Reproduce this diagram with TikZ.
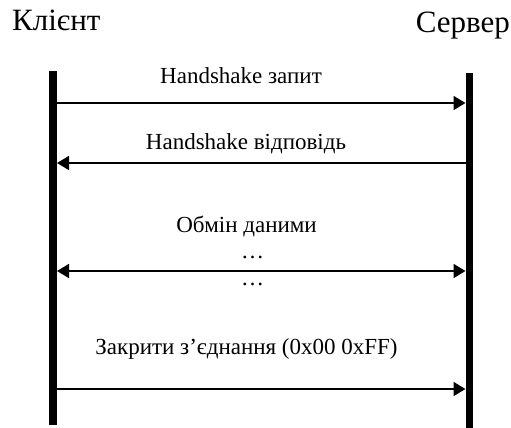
\documentclass[tikz,border=0pt]{standalone}
\usepackage{fontspec}
\setmainfont{Liberation Serif}
\usetikzlibrary{arrows.meta}

\begin{document}
\begin{tikzpicture}[
    x=1pt, y=-1pt,
    % Define styles
    lifeline/.style={
        line width=7.5pt,
        line cap=butt
    },
    msg/.style={
        line width=1.6pt,
        -{Triangle[length=12pt, width=14pt]}
    },
    msgboth/.style={
        line width=1.6pt,
        {Triangle[length=12pt, width=14pt]}-{Triangle[length=12pt, width=14pt]}
    },
    party_text/.style={
        font=\fontsize{31}{36}\selectfont,
        inner sep=0pt
    },
    msg_text/.style={
        font=\fontsize{23}{27}\selectfont,
        inner sep=0pt,
        anchor=base
    }
]
    \useasboundingbox (0,0) rectangle (511,428);

    % --- Parties ---
    \node[party_text, anchor=base west] (client) at (12,31) {Клієнт};
    \node[party_text, anchor=base east] (server) at (510,33) {Сервер};

    % --- Lifelines ---
    \coordinate (ctop) at (53,71);
    \coordinate (cbot) at (53,425);
    \coordinate (stop) at (469.5,73);
    \coordinate (sbot) at (469.5,428);
    \draw[lifeline] (ctop) -- (cbot);
    \draw[lifeline] (stop) -- (sbot);

    % Arrow ends on the inner edges of both lifelines
    \foreach \i/\y in {1/103, 2/163, 3/271, 4/389} {
        \coordinate (c\i) at (57,\y);
        \coordinate (s\i) at (465.5,\y);
    }

    % --- Messages ---
    \draw[msg] (c1) -- (s1);
    \node[msg_text] (req) at (241,84) {Handshake запит};

    \draw[msg] (s2) -- (c2);
    \node[msg_text] (resp) at (246,149) {Handshake відповідь};

    \draw[msgboth] (c3) -- (s3);
    \node[msg_text] (data) at (246.5,232) {Обмін даними};
    \node[msg_text] (dots1) at (252.5,258) {…};
    \node[msg_text] (dots2) at (252.5,285) {…};

    \draw[msg] (c4) -- (s4);
    \node[msg_text] (close) at (246.5,354.5) {Закрити з’єднання (0x00 0xFF)};

\end{tikzpicture}
\end{document}
